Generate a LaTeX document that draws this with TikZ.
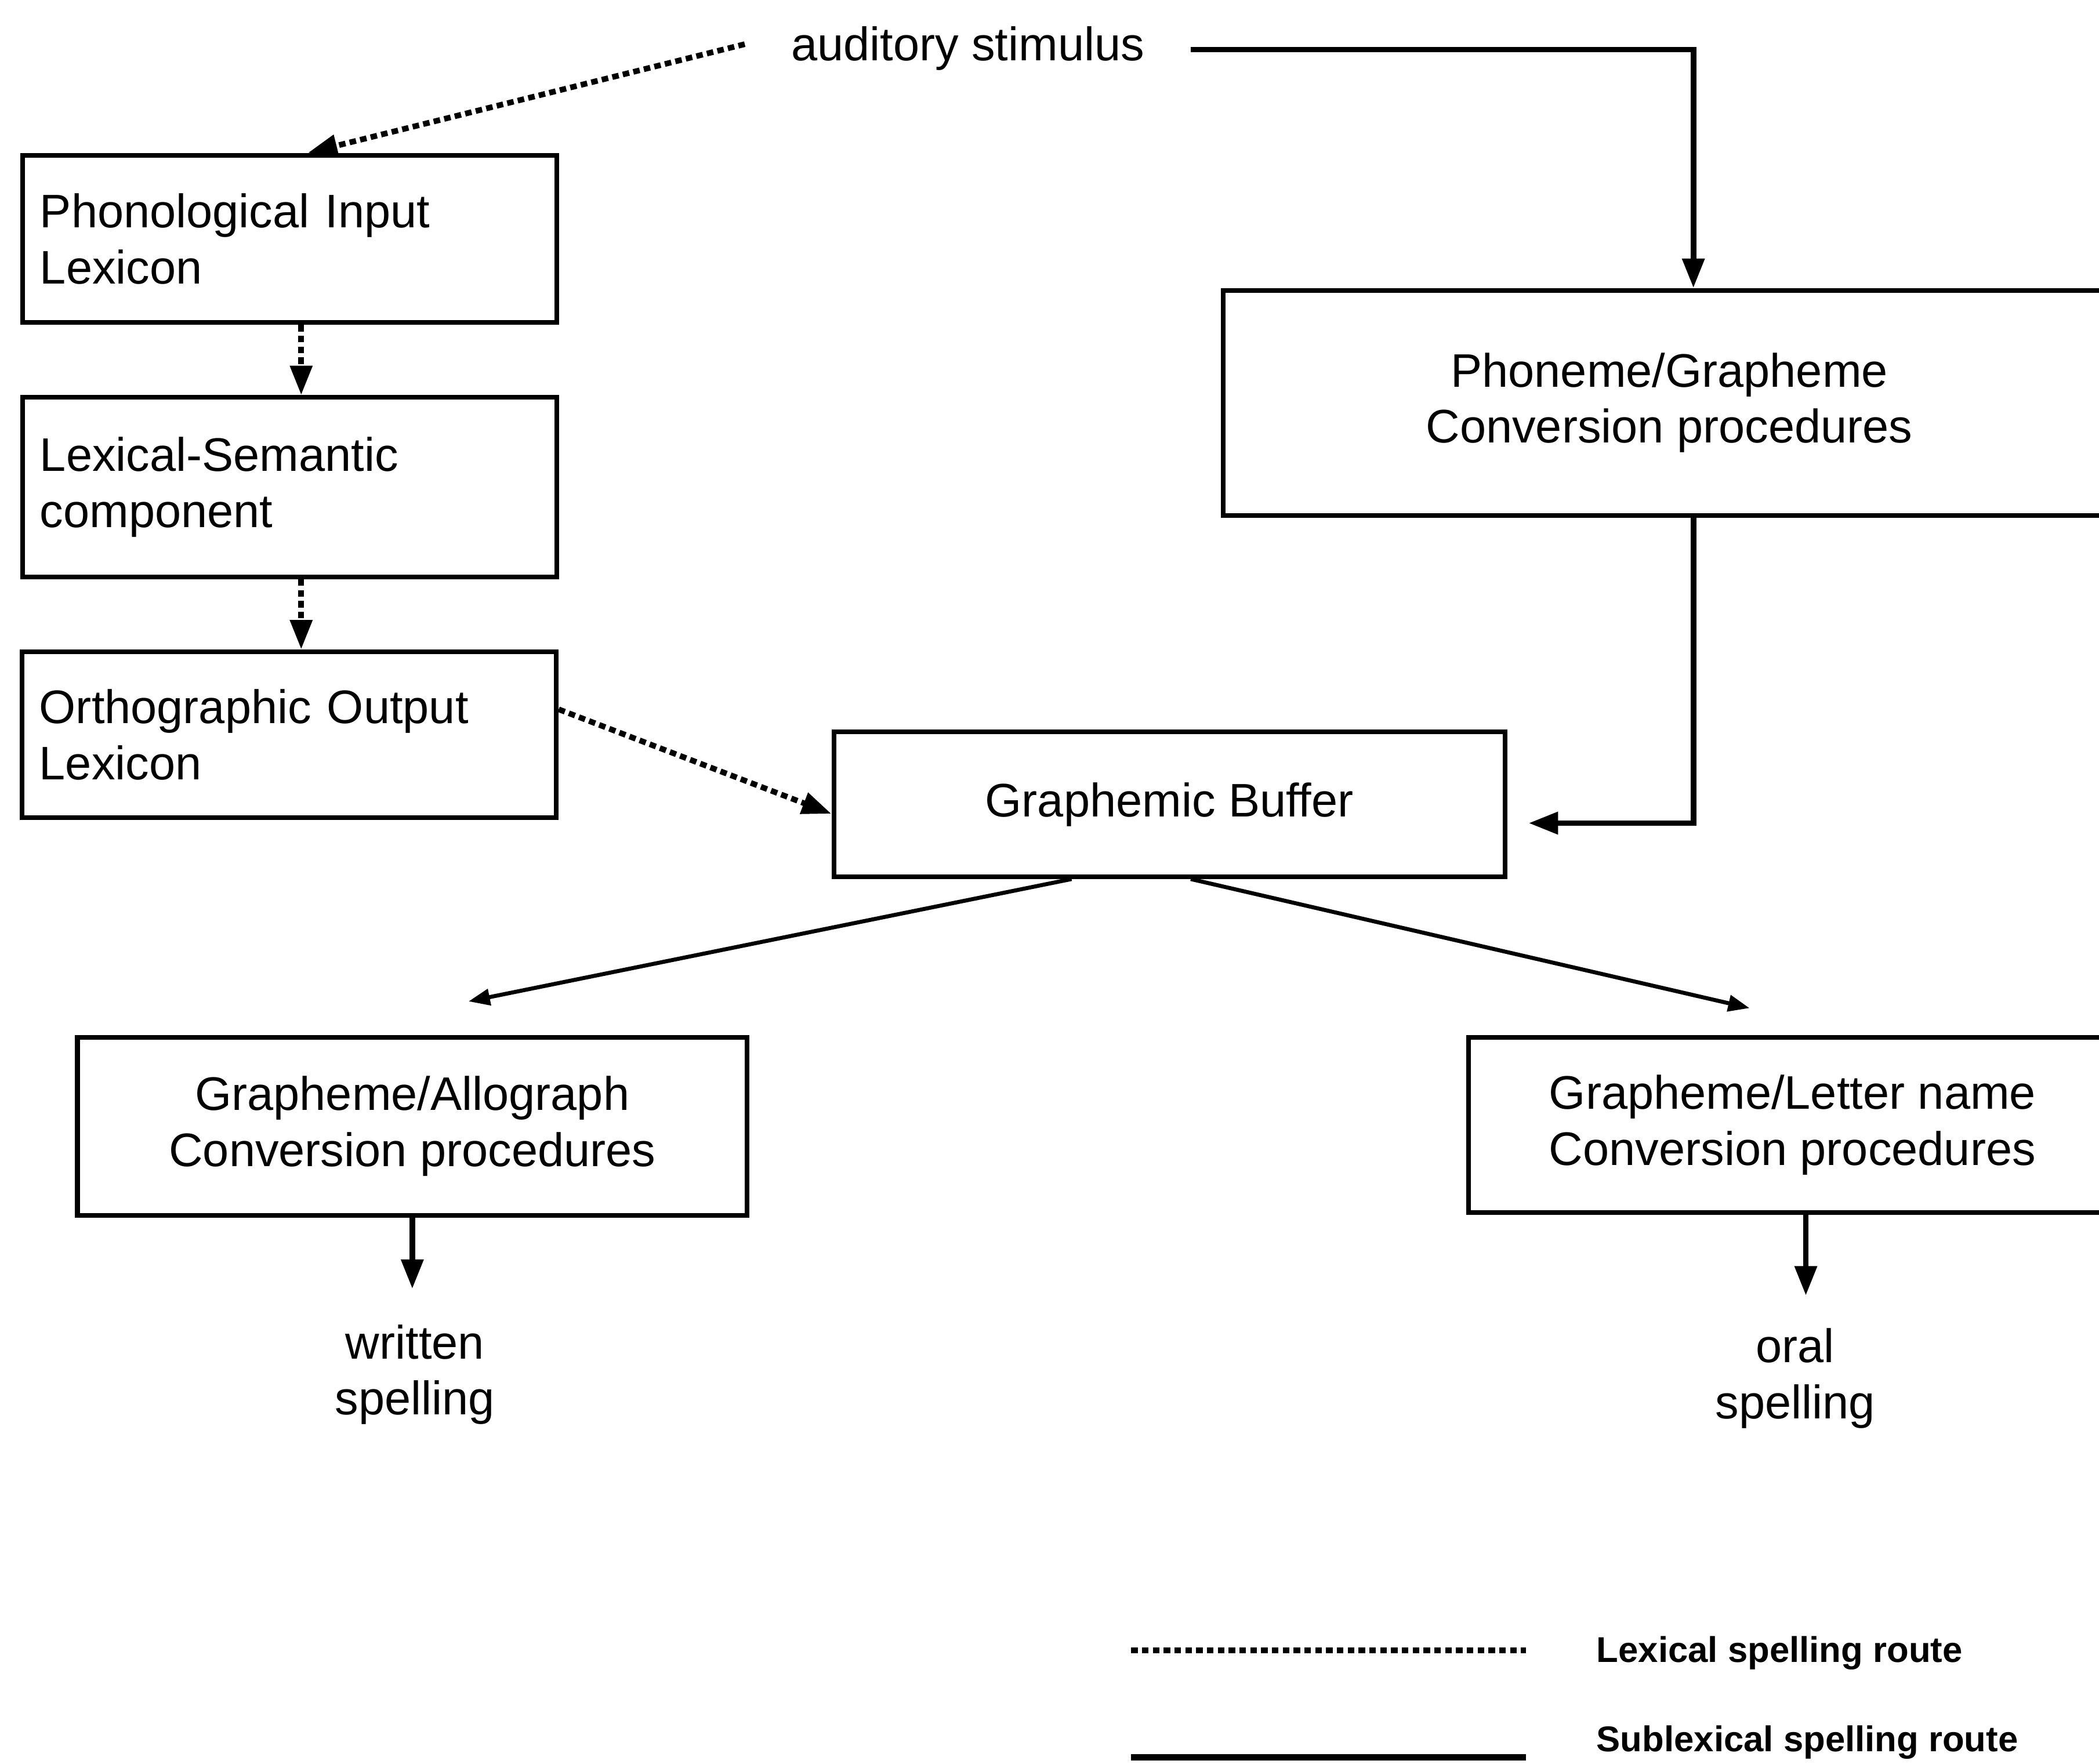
\documentclass[tikz,border=0pt]{standalone}
\usepackage{fontspec}
\setmainfont{Liberation Sans}
\usetikzlibrary{arrows.meta,calc}
\begin{document}
\begin{tikzpicture}[x=0.01cm,y=-0.01cm,
  mainfont/.style={font=\fontsize{10}{11.9}\selectfont},
  box/.style={draw,line width=1pt,rectangle,inner sep=0pt,mainfont},
  lbox/.style={box,align=left,text width=3.73cm,inner xsep=0.13cm},
  cbox/.style={box,align=center},
  plain/.style={inner sep=0pt,mainfont,align=center},
  legend/.style={inner sep=0pt,font=\fontsize{7.6}{9}\selectfont\bfseries,anchor=west},
  lex/.style={line width=1.2pt,dash pattern=on 1.4pt off 0.9pt},
  sub/.style={line width=1.2pt},
  thinarr/.style={line width=0.85pt},
  tipA/.style={-{Triangle[length=0.22cm,width=0.16cm]}},
  tipB/.style={-{Triangle[length=0.16cm,width=0.12cm]}},
]
\useasboundingbox (0,0) rectangle (1568,1318);

% boxes
\node[lbox,minimum height=1.25cm] (PIL) at (216.5,178.5) {Phonological Input\\Lexicon};
\node[lbox,minimum height=1.34cm] (LSC) at (216.5,364) {Lexical-Semantic\\component};
\node[lbox,minimum height=1.24cm] (OOL) at (216,549) {Orthographic Output\\Lexicon};
\node[cbox,minimum width=6.66cm,minimum height=1.68cm] (PG) at (1247,301) {Phoneme/Grapheme\\Conversion procedures};
\node[cbox,minimum width=5.01cm,minimum height=1.08cm] (GB) at (873.5,601) {Graphemic Buffer};
\node[cbox,minimum width=5cm,minimum height=1.33cm] (GA) at (308,841.5) {Grapheme/Allograph\\Conversion procedures};
\node[cbox,minimum width=4.84cm,minimum height=1.31cm] (GL) at (1339,840.5) {Grapheme/Letter name\\Conversion procedures};

% free texts
\node[plain,inner xsep=0.34cm] (AUD) at (723,36) {auditory stimulus};
\node[plain] (WS) at (310,1027) {written\\spelling};
\node[plain] (OS) at (1341,1030) {oral\\spelling};

% helper coordinates
\coordinate (x1) at (230,0);
\coordinate (x2) at (1265,0);
\coordinate (x3) at (225,0);
\coordinate (x4) at (1349,0);
\coordinate (gbin) at ($(GB.east)+(16,14)$);
\coordinate (wa) at (308,963);
\coordinate (oa) at (1349,968);

% lexical route
\draw[lex,tipA] ($(AUD.west)+(0,-3)$) -- (PIL.north -| x1);
\draw[lex,tipA] (PIL.south -| x3) -- (LSC.north -| x3);
\draw[lex,tipA] (LSC.south -| x3) -- (OOL.north -| x3);
\draw[lex,tipA] ($(OOL.east)+(0,-19)$) -- ($(GB.west)+(0,7)$);

% sublexical route
\draw[sub,tipA] ($(AUD.east)+(0,1)$) -| (PG.north -| x2);
\draw[sub,tipA] (PG.south -| x2) |- (gbin);

% output
\draw[thinarr,tipB] ($(GB.south)+(-73,0)$) -- ($(GA.north)+(42,-25)$);
\draw[thinarr,tipB] ($(GB.south)+(16,0)$) -- ($(GL.north)+(-32,-20)$);
\draw[sub,tipA] (GA.south) -- (wa);
\draw[sub,tipA] (GL.south -| x4) -- (oa);

% legend
\coordinate (L1a) at (845,1233);
\coordinate (L1b) at (1140,1233);
\coordinate (L2a) at (845,1313);
\coordinate (L2b) at (1140,1313);
\draw[lex] (L1a) -- (L1b);
\draw[line width=1.4pt] (L2a) -- (L2b);
\node[legend] (L1t) at (1192,1235) {Lexical spelling route};
\node[legend] (L2t) at (1192,1302) {Sublexical spelling route};
\end{tikzpicture}
\end{document}
